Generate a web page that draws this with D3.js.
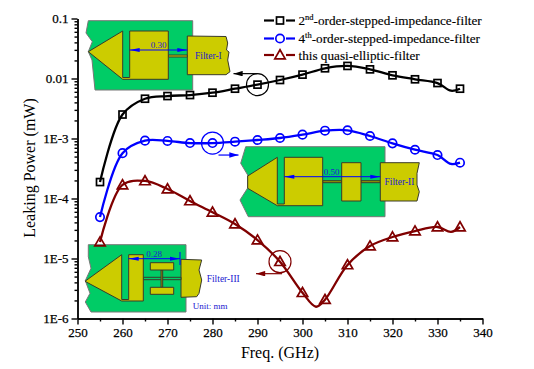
<!DOCTYPE html>
<html>
<head>
<meta charset="utf-8">
<script src="https://cdn.jsdelivr.net/npm/d3@7"></script>
<style>
html, body { margin:0; padding:0; background:#fff; }
svg { display:block; }
text { font-family:"Liberation Serif", serif; }
</style>
</head>
<body>
<div id="chart"></div>
<script>
// values
var freq = [255,260,265,270,275,280,285,290,295,300,305,310,315,320,325,330,335];
var second_order = [1.88e-4,2.51e-3,4.6e-3,5.1e-3,5.3e-3,5.8e-3,6.76e-3,7.9e-3,9.44e-3,1.16e-2,1.48e-2,1.62e-2,1.42e-2,1.13e-2,9.7e-3,8.4e-3,6.76e-3];
var fourth_order = [4.9e-5,5.7e-4,9.2e-4,9.1e-4,8.4e-4,8.4e-4,8.85e-4,9.44e-4,1.02e-3,1.16e-3,1.35e-3,1.37e-3,1.10e-3,8.3e-4,6.5e-4,5.3e-4,3.95e-4];
var quasi_elliptic = [1.88e-5,1.68e-4,1.96e-4,1.44e-4,9.1e-5,5.9e-5,3.76e-5,2.03e-5,8.85e-6,2.69e-6,2.06e-6,7.8e-6,1.61e-5,2.28e-5,2.87e-5,3.35e-5,3.35e-5];
// the drawn curves have a few extra knots between the markers: [freq, value]
var second_order_knots = [[333,6.26e-3]];
var fourth_order_knots = [[333,3.76e-4]];
var quasi_elliptic_knots = [[303,1.57e-6],[333,2.77e-5]];
var x_ticks = [250,260,270,280,290,300,310,320,330,340];
var x_minor_ticks = [255,265,275,285,295,305,315,325,335];
var y_ticks = [1e-6,1e-5,1e-4,1e-3,1e-2,1e-1];
var y_tick_labels = ["1E-6","1E-5","1E-4","1E-3","0.01","0.1"];

var width_chart = 534;
var height_chart = 369;
var color_black = "#000";
var color_blue = "#0000ff";
var color_red = "#800000";
var color_green = "#00cc66";
var color_yellow = "#cccc00";
var color_edge = "#3a3a2a";
var color_note = "#2020d0";

var x_scale = d3.scaleLinear().domain([250,340]).range([77.5,482.5]);
var y_scale = d3.scaleLog().domain([1e-6,0.1]).range([318.5,18.5]);

var svg = d3.select("#chart").append("svg")
  .attr("width", width_chart)
  .attr("height", height_chart);

var defs = svg.append("defs");
[["head_blue",color_blue],["head_black",color_black],["head_red",color_red]].forEach(function (h) {
  defs.append("marker")
    .attr("id", h[0])
    .attr("viewBox", "0 0 10 6")
    .attr("refX", 10).attr("refY", 3)
    .attr("markerUnits", "userSpaceOnUse")
    .attr("markerWidth", 11).attr("markerHeight", 5.5)
    .attr("orient", "auto-start-reverse")
    .append("path").attr("d", "M0,0L10,3L0,6Z").attr("fill", h[1]);
});

// ---- filter layout insets
var shape = d3.line().curve(d3.curveLinear);
function poly (g, pts, fill, stroke) {
  g.append("path")
    .attr("d", shape(pts) + "Z")
    .attr("fill", fill)
    .attr("stroke", stroke || color_edge)
    .attr("stroke-width", 1);
}
function note (g, x, y, txt, size, anchor) {
  g.append("text")
    .attr("x", x).attr("y", y)
    .attr("text-anchor", anchor || "start")
    .attr("font-size", size)
    .attr("fill", color_note)
    .text(txt);
}
function dim_line (g, x0, x1, y) {
  g.append("line")
    .attr("x1", x0).attr("x2", x1).attr("y1", y).attr("y2", y)
    .attr("stroke", color_blue).attr("stroke-width", 1);
  [[x0,x0+10],[x1,x1-10]].forEach(function (p) {
    g.append("path")
      .attr("d", shape([[p[0],y],[p[1],y-2],[p[1],y+2]]) + "Z")
      .attr("fill", color_blue);
  });
}

var inset_1 = svg.append("g");
poly(inset_1, [[88.3,20.7],[192.7,20.7],[192.7,90],[95,90],[92,60],[88.3,51.7],[92.3,41.7],[86,33]], color_green, "#777");
poly(inset_1, [[187.3,36],[226,36.5],[227.7,43],[226.5,50],[229,52],[227.7,60],[230,71.7],[226,74.7],[187.3,74.7]], color_yellow);
poly(inset_1, [[168.3,55],[187.3,55],[187.3,57],[168.3,57]], color_yellow);
poly(inset_1, [[88.3,51.7],[122.7,31],[122.7,77.5],[129.7,77.5],[129.7,31],[168.3,31],[168.3,79.3],[122.7,79.3]], color_yellow);
dim_line(inset_1, 129.7, 187.3, 50);
note(inset_1, 158.7, 47.7, "0.30", 9, "middle");
note(inset_1, 195, 58.5, "Filter-I", 9.5);

var inset_2 = svg.append("g");
poly(inset_2, [[245.7,146.7],[385,146.7],[385,216.7],[248.3,216.7],[240,200],[247.7,188],[247.7,175],[240.7,163.3]], color_green, "#777");
poly(inset_2, [[322.7,180.7],[341.7,180.7],[341.7,182.7],[322.7,182.7]], "#999900");
poly(inset_2, [[361,180.7],[380.3,180.7],[380.3,182.7],[361,182.7]], "#999900");
poly(inset_2, [[341.7,162.7],[361,162.7],[361,201],[341.7,201]], color_yellow);
poly(inset_2, [[380.3,162.7],[419.3,162.7],[417,173.3],[417,185],[419.3,191.7],[417,201],[380.3,201]], color_yellow);
poly(inset_2, [[247.7,176],[277.3,157.3],[277.3,204],[284.3,204],[284.3,157.3],[322.7,157.3],[322.7,205.7],[277.3,205.7],[247.7,188.3]], color_yellow);
dim_line(inset_2, 284.3, 380.3, 176.7);
note(inset_2, 331.7, 174.7, "0.50", 9, "middle");
note(inset_2, 384.5, 185, "Filter-II", 9.5);

var inset_3 = svg.append("g");
poly(inset_3, [[88.3,244.7],[186,244.7],[186,312],[91,312],[85.3,302],[90,293.3],[85.3,280.7],[91,268.3],[88.3,256.7]], color_green, "#777");
poly(inset_3, [[181,259.3],[201.7,260],[199,270],[201.7,280],[199,293.3],[196.7,296.7],[181,297.3]], color_yellow);
poly(inset_3, [[143.3,277.3],[181,277.3],[181,279.7],[143.3,279.7]], color_green);
poly(inset_3, [[161,270],[162.7,270],[162.7,287.3],[161,287.3]], "#999900");
poly(inset_3, [[150.3,262.7],[173.7,262.7],[173.7,270],[150.3,270]], color_yellow);
poly(inset_3, [[150.3,287.3],[173.7,287.3],[173.7,294.3],[150.3,294.3]], color_yellow);
poly(inset_3, [[85,281.3],[121.7,254.7],[121.7,299.5],[128.7,299.5],[128.7,254.7],[143.3,254.7],[143.3,301],[121.7,301]], color_yellow);
dim_line(inset_3, 128.7, 180, 258.7);
inset_3.append("line")
  .attr("x1", 180).attr("x2", 180).attr("y1", 252).attr("y2", 265)
  .attr("stroke", color_blue).attr("stroke-width", 1);
note(inset_3, 154, 256.7, "0.28", 9, "middle");
note(inset_3, 206.7, 281.7, "Filter-III", 9.5);
note(inset_3, 192.7, 309.3, "Unit: mm", 9);

// ---- axes
var x_axis = d3.axisBottom(x_scale).tickValues(x_ticks).tickSize(6).tickSizeOuter(0).tickPadding(3);
var x_axis_minor = d3.axisBottom(x_scale).tickValues(x_minor_ticks).tickSize(3).tickSizeOuter(0).tickFormat("");
var y_axis = d3.axisLeft(y_scale).tickValues(y_ticks).tickSize(6).tickSizeOuter(0).tickPadding(3)
  .tickFormat(function (d, i) { return y_tick_labels[i]; });
var y_minor = [];
y_ticks.slice(0,-1).forEach(function (t) {
  d3.range(2,10).forEach(function (m) { y_minor.push(t*m); });
});
var y_axis_minor = d3.axisLeft(y_scale).tickValues(y_minor).tickSize(3).tickSizeOuter(0).tickFormat("");

function style_axis (g) {
  g.selectAll("path,line").attr("stroke", "#000").attr("stroke-width", 1.4);
  g.selectAll("text").attr("font-size", 13).attr("fill", "#000")
    .attr("stroke", "#000").attr("stroke-width", 0.25);
}
svg.append("g").attr("transform", "translate(0,318.5)").call(x_axis_minor).call(style_axis);
svg.append("g").attr("transform", "translate(0,318.5)").call(x_axis).call(style_axis);
svg.append("g").attr("transform", "translate(77.5,0)").call(y_axis_minor).call(style_axis);
svg.append("g").attr("transform", "translate(77.5,0)").call(y_axis).call(style_axis);

svg.append("text")
  .attr("x", 280).attr("y", 358)
  .attr("text-anchor", "middle")
  .attr("font-size", 16)
  .text("Freq. (GHz)");
svg.append("text")
  .attr("transform", "translate(35,168) rotate(-90)")
  .attr("text-anchor", "middle")
  .attr("font-size", 16)
  .text("Leaking Power (mW)");

// ---- series
var series = [
  {values:second_order, knots:second_order_knots, color:color_black, symbol:"square"},
  {values:fourth_order, knots:fourth_order_knots, color:color_blue, symbol:"circle"},
  {values:quasi_elliptic, knots:quasi_elliptic_knots, color:color_red, symbol:"triangle"}
];
var curve_line = d3.line()
  .curve(d3.curveCatmullRom.alpha(0.5))
  .x(function (d) { return x_scale(d[0]); })
  .y(function (d) { return y_scale(d[1]); });

function draw_symbol (g, kind, cx, cy, color, fill) {
  if (kind === "square") {
    g.append("rect").attr("x", cx-3.5).attr("y", cy-3.5).attr("width", 7).attr("height", 7)
      .attr("fill", fill).attr("stroke", color).attr("stroke-width", 1.7);
  } else if (kind === "circle") {
    g.append("circle").attr("cx", cx).attr("cy", cy).attr("r", 4.2)
      .attr("fill", fill).attr("stroke", color).attr("stroke-width", 1.7);
  } else {
    g.append("path")
      .attr("d", "M"+cx+","+(cy-5.2)+"L"+(cx+5.2)+","+(cy+3.8)+"L"+(cx-5.2)+","+(cy+3.8)+"Z")
      .attr("fill", fill).attr("stroke", color).attr("stroke-width", 1.7);
  }
}

series.forEach(function (s) {
  var pts = freq.map(function (f, i) { return [f, s.values[i]]; }).concat(s.knots);
  pts.sort(function (a, b) { return a[0] - b[0]; });
  svg.append("path")
    .datum(pts)
    .attr("d", curve_line)
    .attr("fill", "none")
    .attr("stroke", s.color)
    .attr("stroke-width", 2.3);
  var g = svg.append("g");
  freq.forEach(function (f, i) {
    draw_symbol(g, s.symbol, x_scale(f), y_scale(s.values[i]), s.color, "none");
  });
});

// ---- callout rings and arrows
var callouts = [
  {f:290, v:second_order[7], color:color_black, head:"head_black", dx0:0, dy0:-11, dx1:-24, dy1:-11},
  {f:280, v:fourth_order[5], color:color_blue, head:"head_blue", dx0:6, dy0:12, dx1:26, dy1:12},
  {f:295, v:quasi_elliptic[8], color:color_red, head:"head_red", dx0:2, dy0:12, dx1:-24, dy1:12}
];
callouts.forEach(function (c) {
  var cx = x_scale(c.f), cy = y_scale(c.v);
  svg.append("circle").attr("cx", cx).attr("cy", cy).attr("r", 11)
    .attr("fill", "none").attr("stroke", c.color).attr("stroke-width", 1.2);
  svg.append("line")
    .attr("x1", cx+c.dx0).attr("y1", cy+c.dy0)
    .attr("x2", cx+c.dx1).attr("y2", cy+c.dy1)
    .attr("stroke", c.color).attr("stroke-width", 1.2)
    .attr("marker-end", "url(#"+c.head+")");
});

// ---- legend
var legend_rows = [
  {color:color_black, symbol:"square", y:20.5, num:"2", sup:"nd", label:"-order-stepped-impedance-filter"},
  {color:color_blue, symbol:"circle", y:38.5, num:"4", sup:"th", label:"-order-stepped-impedance-filter"},
  {color:color_red, symbol:"triangle", y:55, num:"", sup:"", label:"this quasi-elliptic-filter"}
];
var legend = svg.append("g");
legend_rows.forEach(function (r) {
  [[264,274],[286,295]].forEach(function (p) {
    legend.append("line")
      .attr("x1", p[0]).attr("x2", p[1]).attr("y1", r.y).attr("y2", r.y)
      .attr("stroke", r.color).attr("stroke-width", 2.2);
  });
  draw_symbol(legend, r.symbol, 280, r.y, r.color, "#fff");
  var t = legend.append("text")
    .attr("x", 298.5).attr("y", r.y+4.5)
    .attr("font-size", 13.2)
    .attr("fill", "#000")
    .attr("stroke", "#000").attr("stroke-width", 0.15);
  if (r.num) {
    t.append("tspan").text(r.num);
    t.append("tspan").attr("dy", -5).attr("font-size", 8.5).text(r.sup);
    t.append("tspan").attr("dy", 5).text(r.label);
  } else {
    t.text(r.label);
  }
});
</script>
</body>
</html>
